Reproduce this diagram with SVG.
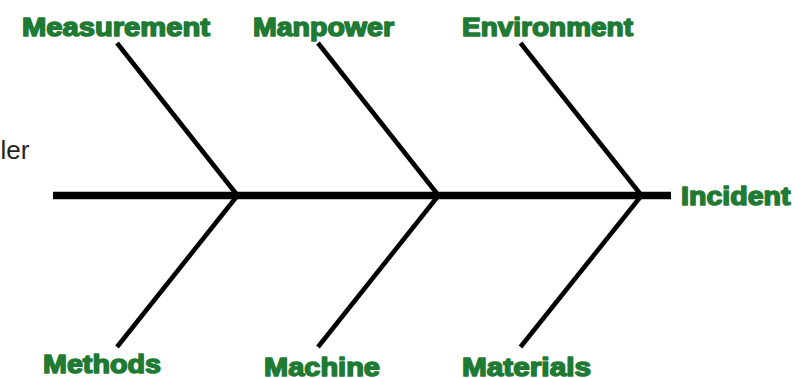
<svg xmlns="http://www.w3.org/2000/svg" width="794" height="378" viewBox="0 0 794 378">
<style>
.lbl{font-family:"Liberation Sans",Arial,sans-serif;font-weight:bold;font-size:25px;fill:#1f7a34;stroke:#1f7a34;stroke-width:1.5;stroke-linejoin:round}
.bone{stroke:#000;stroke-width:4.6;fill:none}
.spine{stroke:#000;stroke-width:7.5;fill:none}
.cut{font-family:"Liberation Sans",Arial,sans-serif;font-size:26px;fill:#222}
</style>
<rect width="794" height="378" fill="#fff"/>
<g id="partial-text"><text class="cut" x="29.5" y="159" text-anchor="end">ler</text></g>
<g id="connectors">
<line class="spine" x1="53" y1="195.5" x2="671" y2="195.5"/>
<line class="bone" x1="117" y1="43" x2="237.5" y2="195.5"/>
<line class="bone" x1="318" y1="43" x2="438.5" y2="195.5"/>
<line class="bone" x1="520.5" y1="43" x2="641.5" y2="195.5"/>
<line class="bone" x1="117" y1="347" x2="237.5" y2="195.5"/>
<line class="bone" x1="318" y1="347" x2="438.5" y2="195.5"/>
<line class="bone" x1="520.5" y1="347" x2="641.5" y2="195.5"/>
</g>
<g id="measurement"><text class="lbl" x="22" y="35.5" textLength="188" lengthAdjust="spacingAndGlyphs">Measurement</text></g>
<g id="manpower"><text class="lbl" x="253" y="35.5" textLength="141" lengthAdjust="spacingAndGlyphs">Manpower</text></g>
<g id="environment"><text class="lbl" x="462" y="35.5" textLength="171" lengthAdjust="spacingAndGlyphs">Environment</text></g>
<g id="incident"><text class="lbl" x="681" y="205.3" textLength="109.5" lengthAdjust="spacingAndGlyphs">Incident</text></g>
<g id="methods"><text class="lbl" x="43" y="373" textLength="118" lengthAdjust="spacingAndGlyphs">Methods</text></g>
<g id="machine"><text class="lbl" x="264" y="376" textLength="116" lengthAdjust="spacingAndGlyphs">Machine</text></g>
<g id="materials"><text class="lbl" x="462" y="376.3" textLength="129" lengthAdjust="spacingAndGlyphs">Materials</text></g>
</svg>
